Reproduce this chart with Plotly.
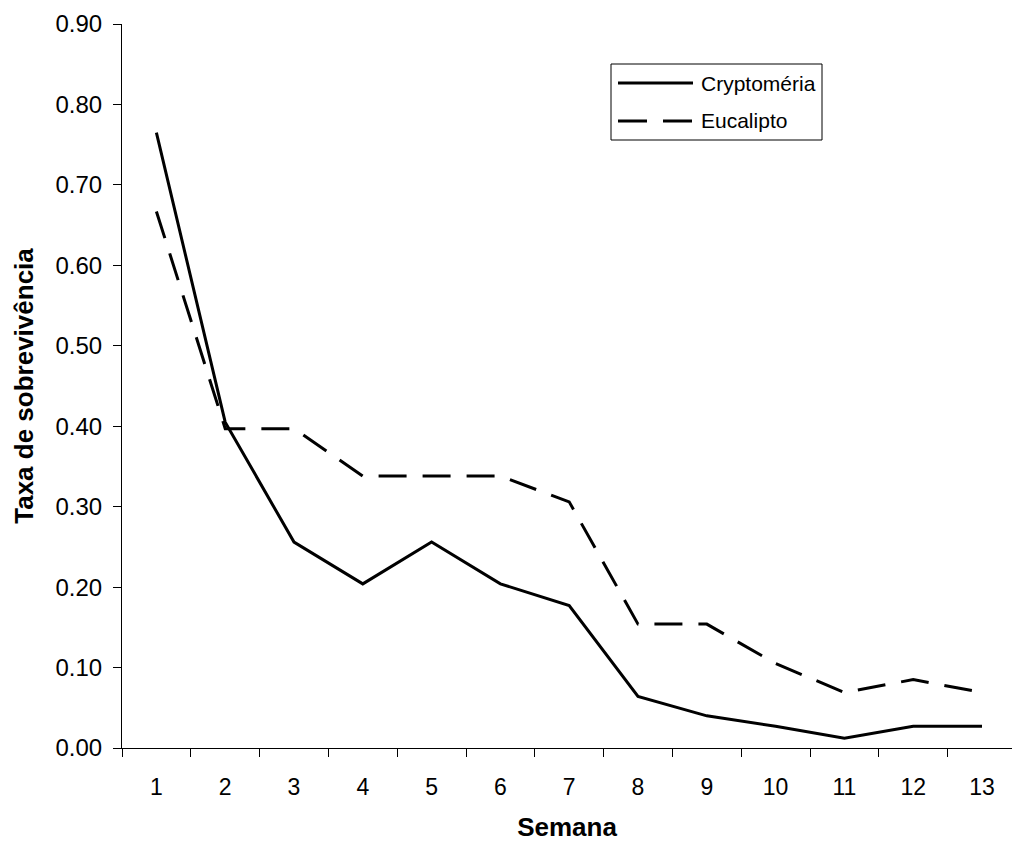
import plotly.graph_objects as go

semanas = [str(i) for i in range(1, 14)]
cryptomeria = [0.765, 0.405, 0.256, 0.204, 0.256, 0.204, 0.177, 0.064, 0.040, 0.027, 0.012, 0.027, 0.027]
eucalipto = [0.667, 0.397, 0.397, 0.338, 0.338, 0.338, 0.306, 0.154, 0.154, 0.105, 0.069, 0.085, 0.069]
y_ticks = [0.0, 0.1, 0.2, 0.3, 0.4, 0.5, 0.6, 0.7, 0.8, 0.9]
series_names = ["Cryptoméria", "Eucalipto"]

FONT = "Liberation Sans, Arial, sans-serif"
W, H = 1012, 842
ML, MR, MT, MB = 122, 0, 24, 94
PW, PH = W - ML - MR, H - MT - MB
DASH = "28px,16px"


def px(x):
    return (x - ML) / PW


def py(y):
    return 1 - (y - MT) / PH


fig = go.Figure()
fig.add_trace(go.Scatter(x=semanas, y=cryptomeria, mode="lines", name=series_names[0],
                         line=dict(color="black", width=3), showlegend=False))
fig.add_trace(go.Scatter(x=semanas, y=eucalipto, mode="lines", name=series_names[1],
                         line=dict(color="black", width=3, dash=DASH), showlegend=False))

# legend drawn as box + sample lines + labels (paper coordinates)
shapes = [
    dict(type="rect", xref="paper", yref="paper", x0=px(611), x1=px(822), y0=py(64), y1=py(140),
         line=dict(color="black", width=1), fillcolor="white", layer="above"),
    dict(type="line", xref="paper", yref="paper", x0=px(618), x1=px(693), y0=py(83), y1=py(83),
         line=dict(color="black", width=3), layer="above"),
    dict(type="line", xref="paper", yref="paper", x0=px(618), x1=px(692), y0=py(121), y1=py(121),
         line=dict(color="black", width=3, dash="29px,16px"), layer="above"),
]
annotations = [
    dict(xref="paper", yref="paper", x=px(699), y=py(83), text=series_names[0], showarrow=False,
         xanchor="left", yanchor="middle", font=dict(family=FONT, size=21, color="black")),
    dict(xref="paper", yref="paper", x=px(699), y=py(121), text=series_names[1], showarrow=False,
         xanchor="left", yanchor="middle", font=dict(family=FONT, size=21, color="black")),
]

fig.update_layout(
    width=W, height=H,
    margin=dict(l=ML, r=MR, t=MT, b=MB),
    paper_bgcolor="white", plot_bgcolor="white",
    font=dict(family=FONT, color="black", size=24),
    showlegend=False,
    shapes=shapes,
    annotations=annotations,
    xaxis=dict(
        type="category", range=[-0.5, 12.436], tickson="boundaries",
        automargin=False,
        showline=True, linecolor="black", linewidth=1,
        ticks="outside", ticklen=8, tickcolor="black", tickwidth=1,
        showgrid=False, zeroline=False,
        tickfont=dict(family=FONT, size=23, color="black"),
        ticklabelstandoff=18,
        title=dict(text="<b>Semana</b>", font=dict(family=FONT, size=26, color="black"), standoff=27),
    ),
    yaxis=dict(
        range=[0, 0.9], tickmode="array", tickvals=y_ticks, tickformat=".2f",
        automargin=False,
        showline=True, linecolor="black", linewidth=1,
        ticks="outside", ticklen=8, tickcolor="black", tickwidth=1,
        showgrid=False, zeroline=False,
        tickfont=dict(family=FONT, size=24, color="black"),
        ticklabelstandoff=6,
        title=dict(text="<b>Taxa de sobrevivência</b>", font=dict(family=FONT, size=26, color="black"), standoff=14),
    ),
)

fig.write_html("out.html", config={"displayModeBar": False},
               post_script="document.body.style.margin='0';")
